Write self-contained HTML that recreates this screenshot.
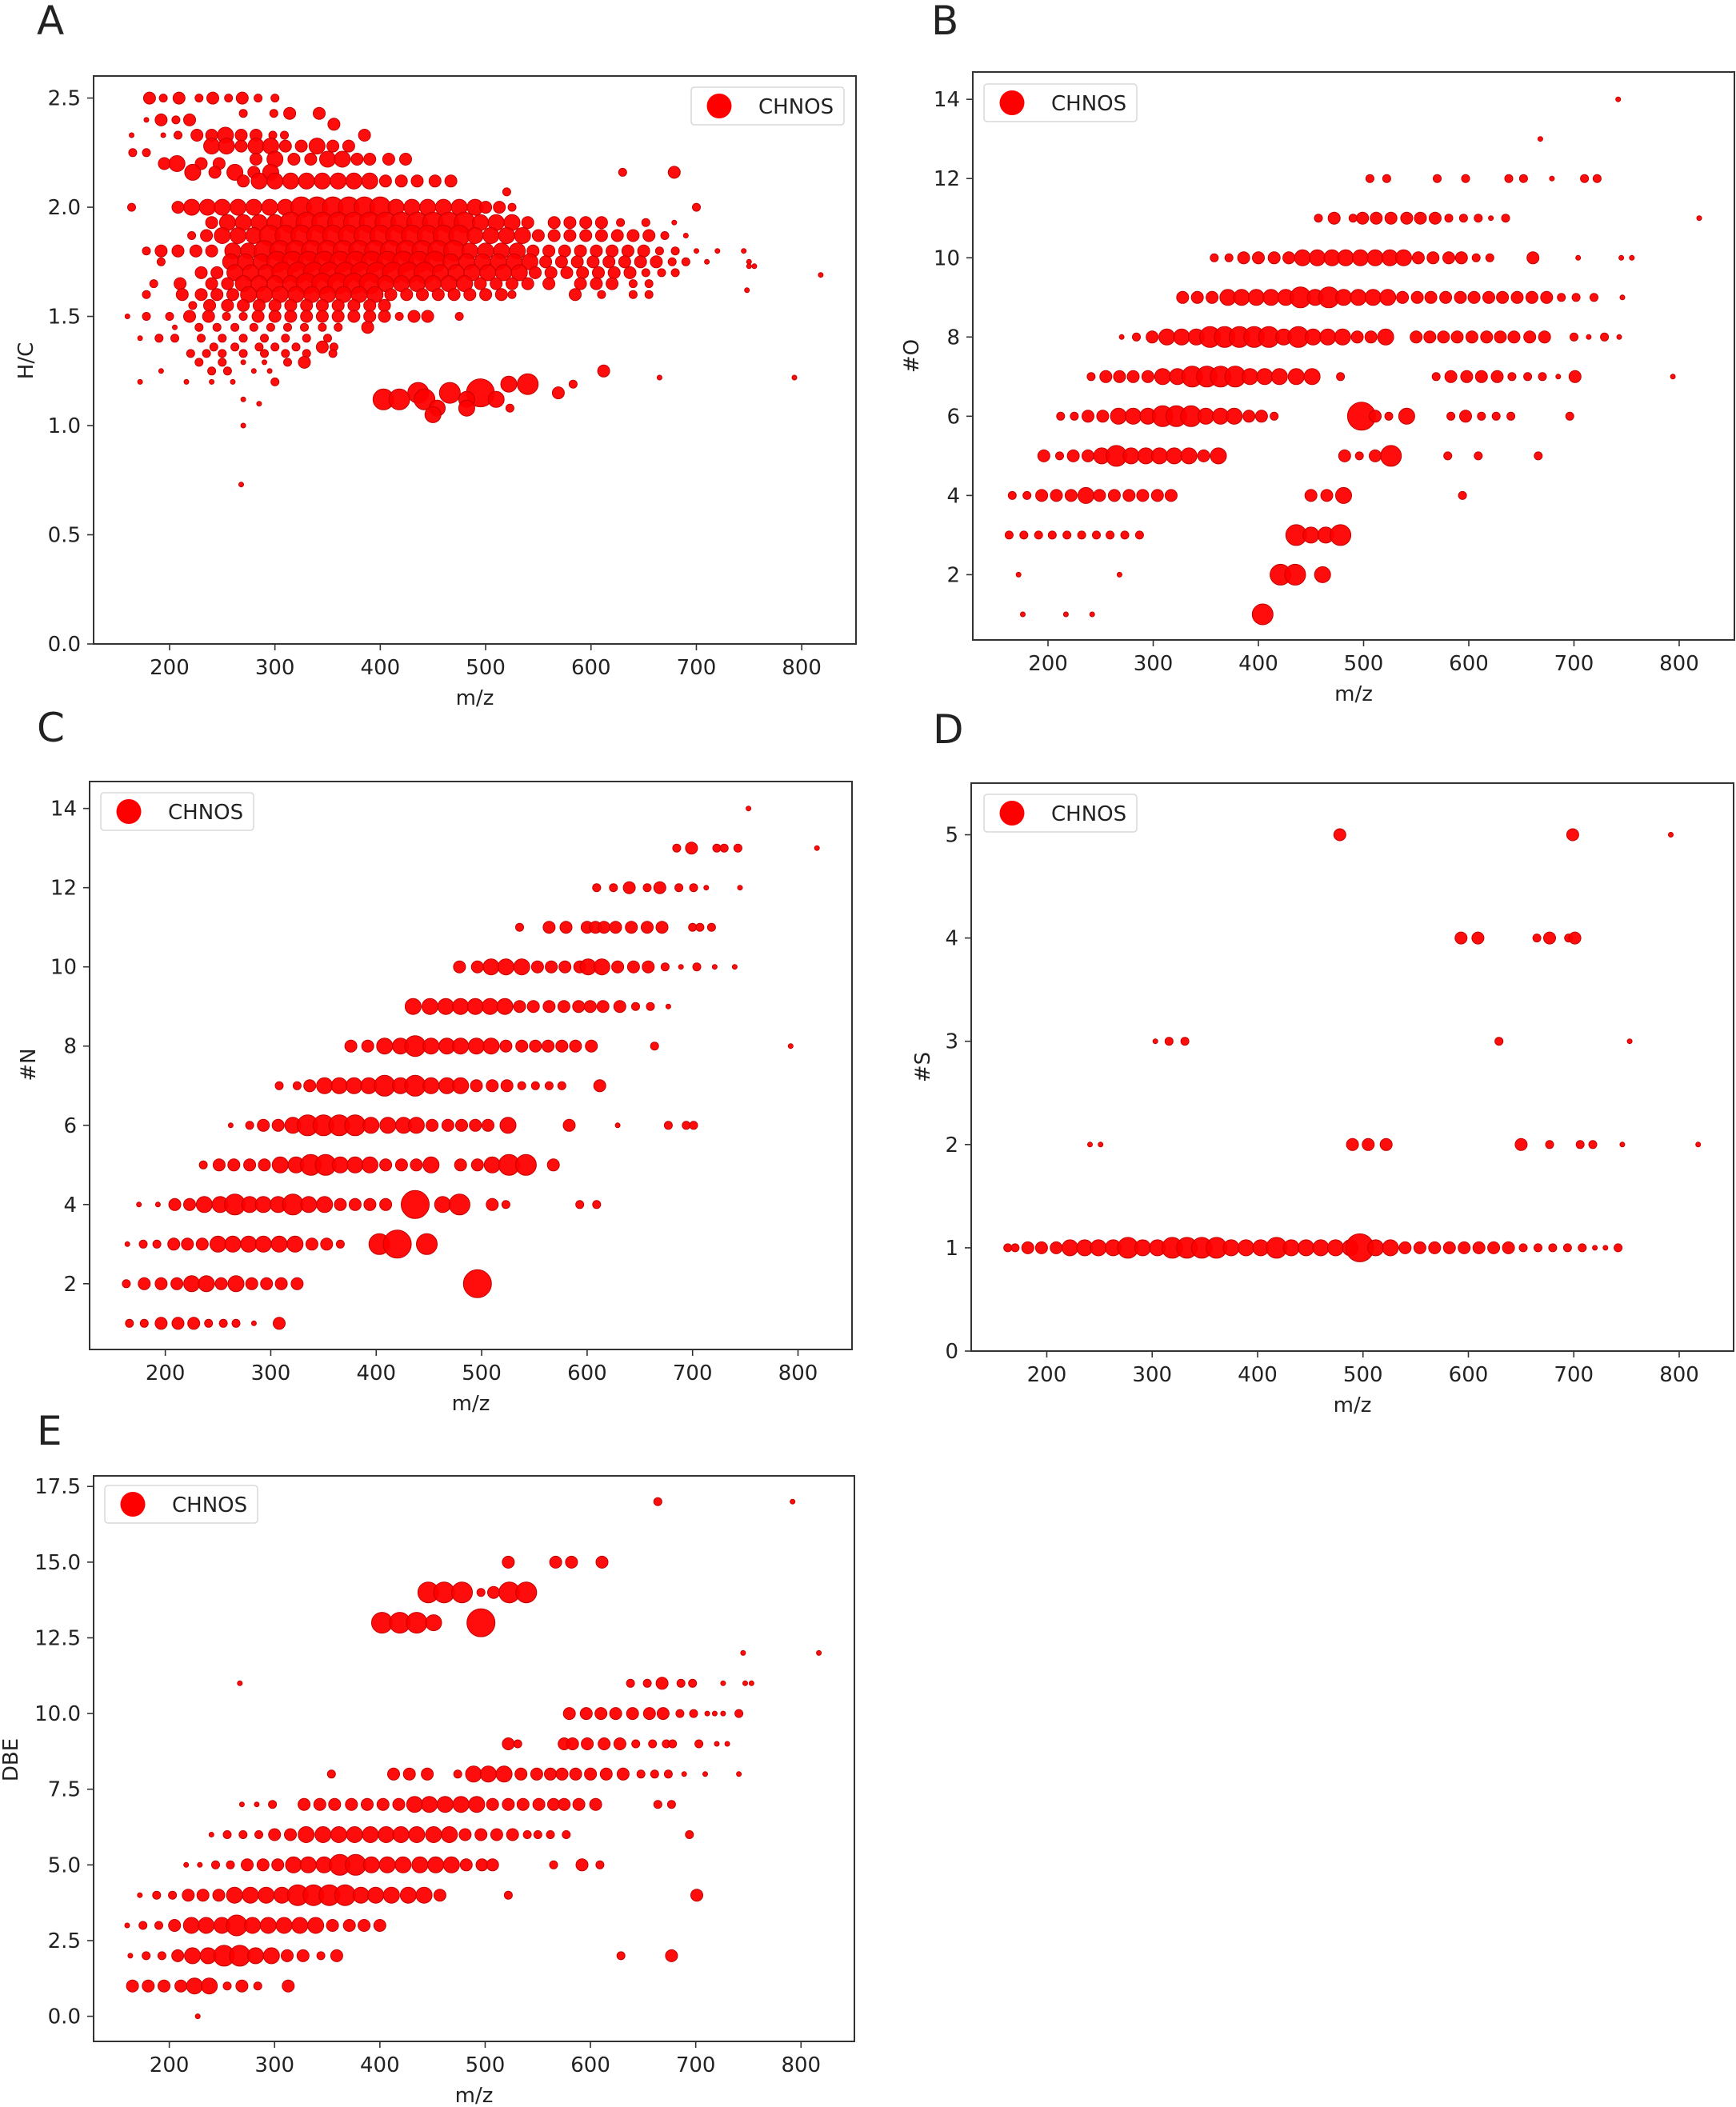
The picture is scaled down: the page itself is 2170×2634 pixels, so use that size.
<!DOCTYPE html>
<html><head><meta charset="utf-8"><style>
html,body{margin:0;padding:0;background:#fff;}
svg{display:block;}
text{font-family:"DejaVu Sans","Liberation Sans",sans-serif;fill:#222;}
</style></head><body>
<svg id="fig" width="2170" height="2634" viewBox="0 0 2170 2634" xmlns="http://www.w3.org/2000/svg"></svg>
<script>
// ---------- DATA: panel A (H/C) ----------
const aRowY = [2.50,2.43,2.40,2.38,2.33,2.28,2.25,2.22,2.20,2.16,2.12,2.07,2.00,1.93,1.87,1.80,1.75,1.70,1.65,1.60,1.55,1.50,1.45,1.40,1.36,1.33,1.29,1.25,1.22,1.20,1.19,1.15,1.12,1.10,1.08,1.05,1.00,0.73,1.73,1.69,1.62];
const aRowMz = [
[181,194,209,228,241,256,269,284,300],
[270,299,314,342],
[178,192,206,219],
[356],
[164,194,208,226,240,253,268,282,298,309,385],
[240,254,268,282,296,310,325,340,355,370],
[165,178],
[282,300,318,334,350,364,378,390,408,424],
[195,207,230,247],
[222,243,262,280,296,630,679],
[270,285,300,315,330,345,360,375,390,405,420,435,452,467],
[520],
[164,208,221,236,250,265,280,295,310,325,340,355,370,385,400,415,430,445,460,475,490,500,513,525,700],
[240,255,270,285,300,315,330,345,360,375,390,405,420,435,450,465,480,495,510,525,540,565,580,595,610,628,652,679],
[221,235,250,265,280,295,310,325,340,355,370,385,400,415,430,445,460,475,490,505,520,535,550,565,580,595,610,625,640,655,670,690],
[178,192,208,225,240,260,275,290,305,320,335,350,365,380,395,410,425,440,455,470,485,500,515,530,545,560,575,590,605,620,635,650,665,680,700,720,745],
[192,258,272,287,302,317,332,347,362,377,392,407,422,437,452,467,482,497,512,527,542,557,572,587,602,617,632,647,662,677,690,710,750],
[230,245,262,277,292,307,322,337,352,367,382,397,412,427,442,457,472,487,502,517,532,547,562,577,592,607,622,637,652,667,680],
[185,210,240,255,270,285,300,315,330,345,360,375,390,405,420,435,450,465,480,495,510,525,540,560,590,605,620,640,655],
[178,212,230,245,260,275,290,305,320,335,350,365,380,395,410,425,440,455,470,485,500,515,525,585,610,640,655],
[222,238,255,270,285,300,315,330,345,360,375,390,404],
[160,178,200,219,237,254,270,284,300,315,330,345,360,375,390,404,418,432,445,475],
[205,228,245,262,280,296,312,328,345,360,388],
[172,190,205,230,250,270,290,310,330,350],
[242,262,285,300,320,345,356],
[220,235,250,270,290,310,330,355],
[228,250,270,290,312,328],
[192,240,255,280,295,612],
[665,793],
[172,216,240,260,300],
[522,540,583],
[436,466,495,569],
[403,418,442,482,510,270],
[285],
[454,482,523],
[450],
[270],
[268],
[750,755],
[818],
[748]
];
const aRowSz = [
[3,2,3,2,3,2,3,2,2],
[2,2,3,3],
[1,3,2,3],
[3],
[1,1,2,3,3,4,3,3,2,2,3],
[4,4,3,4,4,3,3,4,3,3],
[2,2],
[3,4,3,3,4,4,3,3,3,3],
[3,4,3,3],
[4,3,4,3,4,2,3],
[3,4,4,4,4,4,4,4,4,3,3,3,3,3],
[2],
[2,3,4,4,4,4,4,4,4,5,5,5,5,5,5,4,4,4,4,4,4,3,3,2,2],
[3,4,4,4,4,5,5,5,5,5,5,5,5,5,5,5,5,4,4,4,3,3,3,3,3,2,2,1],
[2,3,4,4,4,5,5,5,5,5,5,5,5,5,5,5,5,5,4,4,4,4,3,3,3,3,3,3,3,3,2,1],
[2,3,3,3,3,4,4,5,5,5,5,5,5,5,5,5,5,5,5,5,4,4,4,4,3,3,3,3,3,3,3,3,2,2,1,1,1],
[2,4,4,4,5,5,5,5,5,5,5,5,5,5,5,4,4,4,4,4,4,3,3,3,3,3,3,3,3,2,2,1,1],
[3,3,4,4,4,5,5,5,5,5,5,5,5,5,5,4,4,4,4,4,4,3,3,3,3,3,3,3,2,2,2],
[2,3,3,3,4,4,4,4,5,5,5,5,5,4,4,4,4,4,4,3,3,3,3,3,3,3,3,2,2],
[2,3,3,3,3,4,4,4,4,4,4,4,4,4,3,3,3,3,3,3,3,3,2,3,2,2,2],
[2,3,3,3,3,3,3,3,3,3,3,3,3],
[1,2,2,3,3,2,2,3,3,3,3,3,3,3,3,3,2,3,3,2],
[1,2,2,2,2,2,2,2,2,2,3],
[1,2,2,2,2,2,2,2,2,2],
[2,2,2,2,2,3,2],
[2,2,2,2,2,2,2,2],
[2,2,1,1,2,3],
[1,2,2,1,1,3],
[1,1],
[1,1,1,1,2],
[4,5,2],
[5,5,6,3],
[5,5,5,4,4,1],
[1],
[4,4,2],
[4],
[1],
[1],
[1,1],
[1],
[1]
];
// ---------- DATA: panel B (#O) ----------
const bRowY = [14,13,12,11,10,9,8,7,6,5,4,3,2,1];
const bRowMz = [
[742],
[668],
[506,522,570,597,638,652,679,710,722],
[457,472,490,499,512,526,541,554,568,581,595,609,621,635,819],
[358,372,386,400,415,429,442,456,470,483,497,511,525,538,552,566,581,593,607,620,661,704,745,755],
[328,342,356,371,384,398,412,426,440,454,467,481,495,509,523,537,551,564,578,592,605,619,632,646,660,674,688,702,719,746],
[270,284,299,313,327,341,354,368,382,396,410,424,438,452,466,480,494,507,521,550,563,576,589,603,617,630,643,658,672,700,714,729,743],
[241,255,268,281,295,309,323,337,351,364,378,392,406,420,436,451,478,569,583,598,612,627,641,656,670,685,701,794],
[212,225,238,252,267,281,295,309,322,336,350,364,377,391,403,415,498,511,524,541,583,597,612,626,640,696],
[196,211,224,238,251,265,279,293,306,320,334,348,362,482,496,511,526,580,609,666],
[166,180,194,208,222,236,249,263,277,290,304,317,450,465,481,594],
[163,177,191,204,218,232,246,259,273,287,436,450,464,478],
[172,268,421,435,461],
[176,217,242,404]
];
const bRowSz = [
[1],[1],
[2,2,2,2,2,2,1,2,2],
[2,3,2,3,3,3,3,3,3,2,2,2,1,2,1],
[2,2,3,3,3,3,4,4,4,4,4,4,4,4,3,3,3,3,2,2,3,1,1,1],
[3,3,3,4,4,4,4,4,5,4,5,4,4,4,4,3,3,3,3,3,3,3,3,3,3,3,2,2,2,1],
[1,2,3,4,4,4,5,5,5,5,5,4,5,4,4,4,3,3,4,3,3,3,3,3,3,3,3,3,3,2,1,2,1],
[2,3,3,3,3,4,4,5,5,5,5,4,4,4,4,4,2,2,3,3,3,3,2,2,2,1,3,1],
[2,2,3,3,4,4,4,5,5,5,4,4,4,3,3,2,6,3,2,4,2,3,2,2,2,2],
[3,2,3,3,4,5,4,4,4,4,4,3,4,3,2,3,5,2,2,2],
[2,2,3,3,3,4,3,3,3,3,3,3,3,3,4,2],
[2,2,2,2,2,2,2,2,2,2,5,4,4,5],
[1,1,5,5,4],
[1,1,1,5]
];
// ---------- DATA: panel C (#N) ----------
const cRowY = [14,13,12,11,10,9,8,7,6,5,4,3,2,1];
const cRowMz = [
[753],
[685,699,723,730,743,818],
[609,625,640,657,669,687,701,713,745],
[536,564,580,600,608,616,627,642,657,671,700,707,718],
[479,496,509,523,538,553,566,579,593,601,614,629,644,658,674,689,704,721,740],
[435,451,466,480,494,508,522,536,549,564,578,592,603,615,631,646,660,677],
[376,392,408,423,437,452,467,480,495,509,523,538,551,563,576,589,604,664,793],
[308,325,337,351,365,379,393,408,423,437,452,467,480,495,510,524,538,551,564,576,612],
[262,280,293,307,321,335,350,365,380,395,411,426,438,453,468,481,494,506,525,583,629,677,694,701],
[236,251,265,280,294,309,324,338,352,366,380,394,409,424,438,452,480,496,510,526,542,568],
[175,193,209,223,237,252,266,280,293,307,321,336,351,366,380,394,409,437,463,479,510,523,593,609],
[164,179,192,208,221,235,250,264,279,293,308,323,339,353,366,403,420,448],
[163,180,196,211,225,239,253,267,282,296,310,325,496],
[166,180,196,212,227,241,255,267,284,308]
];
const cRowSz = [
[1],
[2,3,2,2,2,1],
[2,2,3,2,3,2,2,1,1],
[2,3,3,3,3,3,3,3,3,3,2,2,2],
[3,3,4,4,4,3,3,3,3,4,4,3,3,3,2,1,2,1,1],
[4,4,4,4,4,4,4,3,3,3,3,3,3,3,3,2,2,1],
[3,3,4,4,5,4,4,4,4,4,3,3,3,3,3,3,3,2,1],
[2,2,3,4,4,4,4,5,4,5,4,4,4,3,3,3,2,2,2,2,3],
[1,2,3,3,4,5,5,5,5,4,4,4,4,3,3,3,3,3,4,3,1,2,2,2],
[2,3,3,3,3,4,4,5,5,4,4,4,3,3,3,4,3,3,4,5,5,3],
[1,1,3,3,4,4,5,4,4,4,5,4,4,3,3,3,3,6,4,5,3,2,2,2],
[1,2,2,3,3,3,4,4,4,4,4,4,3,3,2,5,6,5],
[2,3,3,3,4,4,3,4,3,3,3,3,6],
[2,2,3,3,3,2,2,2,1,3]
];
// ---------- DATA: panel D (#S) ----------
const dRowY = [5,4,3,2,1];
const dRowMz = [
[478,699,792],
[593,609,665,677,695,701],
[303,316,331,629,753],
[241,251,490,505,522,650,677,706,718,746,818],
[163,170,182,195,209,222,236,249,263,277,291,305,319,333,347,361,375,389,403,418,432,446,460,474,488,497,512,526,540,554,568,582,596,610,624,638,652,666,680,694,708,720,730,742]
];
const dRowSz = [
[3,3,1],
[3,3,2,3,2,3],
[1,2,2,2,1],
[1,1,3,3,3,3,2,2,2,1,1],
[2,2,3,3,3,4,4,4,4,5,4,4,5,5,5,5,4,4,4,5,4,4,4,4,4,6,4,4,3,3,3,3,3,3,3,3,2,2,2,2,2,1,1,2]
];
// ---------- DATA: panel E (DBE) ----------
const eRowY = [17,15,14,13,12,11,10,9,8,7,6,5,4,3,2,1,0];
const eRowMz = [
[664,792],
[522,567,582,611],
[446,461,478,496,508,523,539],
[402,419,435,451,496],
[745,817],
[267,638,654,668,686,697,726,747,753],
[580,596,610,624,640,656,669,685,698,711,718,726,741],
[522,531,575,583,597,613,628,643,659,672,678,703,720,730],
[354,413,428,445,474,489,503,518,534,549,562,573,586,600,615,631,648,661,674,689,709,741],
[269,283,298,328,343,357,373,388,403,418,433,447,462,477,492,507,522,536,551,565,575,589,605,664,677],
[240,255,270,285,300,315,330,346,361,376,391,406,420,435,451,466,481,496,511,526,540,550,562,577,694],
[216,229,244,258,274,289,303,318,332,347,362,377,392,407,422,438,453,468,482,497,507,565,592,609],
[172,188,203,218,232,247,262,277,292,307,322,337,352,367,382,396,411,427,442,457,522,701],
[160,175,190,205,221,235,250,264,279,294,309,324,339,355,371,385,400],
[163,178,193,208,222,237,252,267,282,297,312,327,344,359,629,677],
[165,180,195,211,224,238,255,269,284,313],
[227]
];
const eRowSz = [
[2,1],
[3,3,3,3],
[5,5,5,2,3,5,5],
[5,5,5,4,6],
[1,1],
[1,2,2,3,2,2,1,1,1],
[3,3,3,3,3,3,3,2,2,1,1,1,2],
[3,2,3,3,3,3,3,2,2,2,2,2,1,1],
[2,3,3,3,2,4,4,4,3,3,3,3,3,3,3,3,2,2,2,1,1,1],
[1,1,2,3,3,3,3,3,3,3,4,4,4,4,4,3,3,3,3,3,3,3,3,2,2],
[1,2,2,2,3,3,4,4,4,4,4,4,4,4,4,4,3,3,3,3,2,2,2,2,2],
[1,1,2,2,3,3,3,4,4,4,5,5,4,4,4,4,4,4,3,3,3,2,3,2],
[1,2,2,3,3,3,4,4,4,4,5,5,5,5,4,4,4,4,4,3,2,3],
[1,2,2,3,4,4,4,5,4,4,4,4,4,3,3,3,3],
[1,2,2,3,4,4,5,5,4,4,3,3,2,3,2,3],
[3,3,3,3,4,4,2,3,2,3],
[1]
];
const xTickLabels = ["200","300","400","500","600","700","800"];
const xTickVals = [200,300,400,500,600,700,800];
const aYTicks = [0.0,0.5,1.0,1.5,2.0,2.5];
const aYTickLabels = ["0.0","0.5","1.0","1.5","2.0","2.5"];
const bYTicks = [2,4,6,8,10,12,14];
const cYTicks = [2,4,6,8,10,12,14];
const dYTicks = [0,1,2,3,4,5];
const eYTicks = [0,2.5,5,7.5,10,12.5,15,17.5];
const eYTickLabels = ["0.0","2.5","5.0","7.5","10.0","12.5","15.0","17.5"];
const sizeRadius = [0,3,5,7.5,10,13,17.5];

const NS = "http://www.w3.org/2000/svg";
const svg = document.getElementById('fig');
function mk(tag, attrs, parent) {
  const e = document.createElementNS(NS, tag);
  for (const k in attrs) e.setAttribute(k, attrs[k]);
  (parent || svg).appendChild(e);
  return e;
}

function drawPanel(p, rowY, rowMz, rowSz, yTicks, yLabels) {
  const g = mk('g', {});
  
  
  const xs = v => p.L + (v - p.xmin) / (p.xmax - p.xmin) * (p.R - p.L);
  const ys = v => p.B - (v - p.ymin) / (p.ymax - p.ymin) * (p.B - p.T);
  // panel letter
  const lt = mk('text', {x: p.letterX, y: p.letterY, 'font-size': 50, fill: '#000'}, g);
  lt.textContent = p.letter;
  
  
  // markers
  const mg = mk('g', {}, g);
  
  
  for (let r = 0; r < rowY.length; r++) {
    for (let i = 0; i < rowMz[r].length; i++) {
      const c = mk('circle', {cx: xs(rowMz[r][i]).toFixed(1), cy: ys(rowY[r]).toFixed(1), r: sizeRadius[rowSz[r][i]], fill: '#ff0000', stroke: '#c40000', 'stroke-width': 1, 'fill-opacity': 0.95}, mg);
      
      
    }
  }
  // frame
  const fr = mk('rect', {x: p.L, y: p.T, width: p.R - p.L, height: p.B - p.T, fill: 'none', stroke: '#333', 'stroke-width': 2}, g);
  
  
  // x ticks
  for (let i = 0; i < xTickVals.length; i++) {
    const x = xs(xTickVals[i]);
    const tk = mk('line', {x1: x, y1: p.B, x2: x, y2: p.B + 8, stroke: '#333', 'stroke-width': 1.6}, g);
    
    
    const t = mk('text', {x: x, y: p.B + 38, 'font-size': 26, 'text-anchor': 'middle'}, g);
    t.textContent = xTickLabels[i];
    
    
  }
  // y ticks
  for (let i = 0; i < yTicks.length; i++) {
    const y = ys(yTicks[i]);
    const tk = mk('line', {x1: p.L - 8, y1: y, x2: p.L, y2: y, stroke: '#333', 'stroke-width': 1.6}, g);
    
    
    const t = mk('text', {x: p.L - 16, y: y + 9, 'font-size': 26, 'text-anchor': 'end'}, g);
    t.textContent = yLabels ? yLabels[i] : String(yTicks[i]);
    
    
  }
  // axis labels
  const xl = mk('text', {x: (p.L + p.R) / 2, y: p.B + 76, 'font-size': 26, 'text-anchor': 'middle'}, g);
  xl.textContent = 'm/z';
  
  
  const yl = mk('text', {x: 0, y: 0, 'font-size': 26, 'text-anchor': 'middle', transform: 'translate(' + p.ylabX + ',' + p.ylabY + ') rotate(-90)'}, g);
  yl.textContent = p.ylabel;
  
  
  // legend
  const lg = mk('g', {}, g);
  
  
  mk('rect', {x: p.lgX, y: p.lgY, width: 191, height: 47, rx: 4, fill: '#fff', stroke: '#d8d8d8', 'stroke-width': 1.5}, lg);
  const lm = mk('circle', {cx: p.lgX + 35, cy: p.lgY + 23.5, r: 15.5, fill: '#ff0000'}, lg);
  
  
  const ltx = mk('text', {x: p.lgX + 84, y: p.lgY + 33, 'font-size': 26}, lg);
  ltx.textContent = 'CHNOS';
  
  
}

drawPanel({id:'a', letter:'A', letterX:46, letterY:43, L:117, R:1070, T:95, B:805, xmin:127.9, xmax:851.5, ymin:0, ymax:2.601, ylabel:'H/C', ylabX:41, ylabY:451, lgX:864, lgY:109}, aRowY, aRowMz, aRowSz, aYTicks, aYTickLabels);
drawPanel({id:'b', letter:'B', letterX:1164, letterY:43, L:1216, R:2168, T:90, B:800, xmin:128.5, xmax:852.5, ymin:0.353, ymax:14.69, ylabel:'#O', ylabX:1148, ylabY:445, lgX:1230, lgY:105}, bRowY, bRowMz, bRowSz, bYTicks, null);
drawPanel({id:'c', letter:'C', letterX:46, letterY:927, L:112, R:1065, T:977, B:1687, xmin:128.2, xmax:851.2, ymin:0.34, ymax:14.68, ylabel:'#N', ylabX:44, ylabY:1331, lgX:126, lgY:991}, cRowY, cRowMz, cRowSz, cYTicks, null);
drawPanel({id:'d', letter:'D', letterX:1166, letterY:929, L:1214, R:2167, T:979, B:1689, xmin:128.3, xmax:851.6, ymin:0, ymax:5.50, ylabel:'#S', ylabX:1162, ylabY:1334, lgX:1230, lgY:993}, dRowY, dRowMz, dRowSz, dYTicks, null);
drawPanel({id:'e', letter:'E', letterX:46, letterY:1806, L:117, R:1068, T:1845, B:2552, xmin:128.1, xmax:850.7, ymin:-0.83, ymax:17.85, ylabel:'DBE', ylabX:22, ylabY:2200, lgX:131, lgY:1857}, eRowY, eRowMz, eRowSz, eYTicks, eYTickLabels);
</script>
</body></html>
